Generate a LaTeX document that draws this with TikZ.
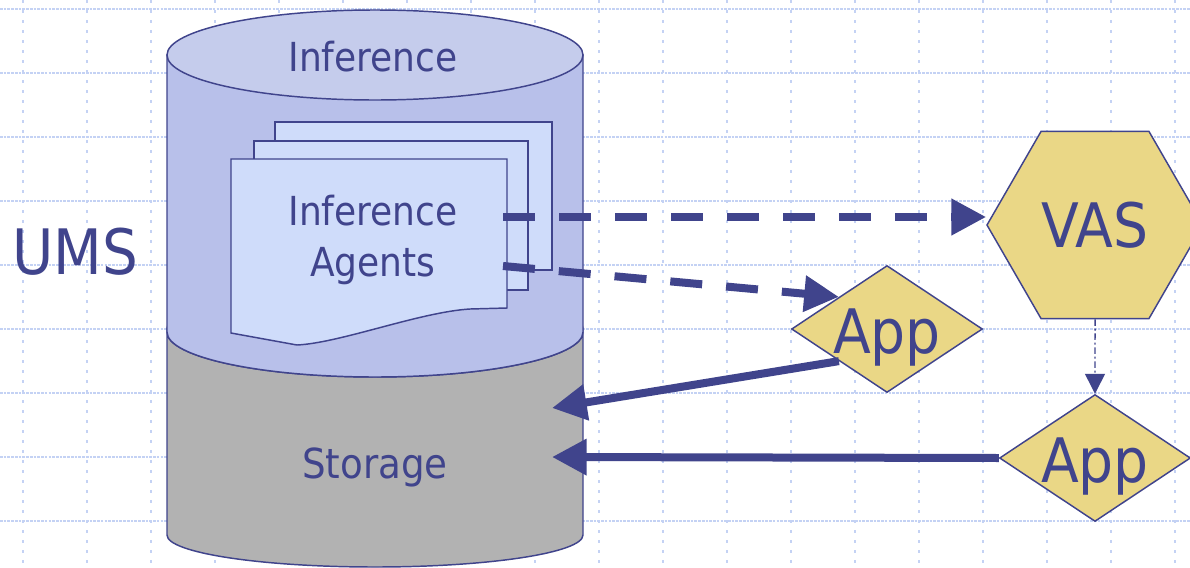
\documentclass[tikz,border=0pt]{standalone}
\usepackage{fontspec}
\setmainfont{DejaVu Sans Condensed}
\usetikzlibrary{arrows.meta,shapes.geometric}

\definecolor{umsblue}{RGB}{64,68,140}
\definecolor{gridblue}{RGB}{196,210,244}
\definecolor{bodyblue}{RGB}{184,192,234}
\definecolor{lidblue}{RGB}{197,204,236}
\definecolor{docblue}{RGB}{207,220,250}
\definecolor{storegray}{RGB}{178,178,178}
\definecolor{appyellow}{RGB}{234,215,134}

\tikzset{
  outline/.style={draw=umsblue, line width=1.1pt},
  gridline/.style={draw=gridblue, line width=1.1pt},
  docpage/.style={outline, fill=docblue},
  bigtxt/.style={text=umsblue, inner sep=0pt, font=\fontsize{46}{55}\selectfont},
  midtxt/.style={text=umsblue, inner sep=0pt, font=\fontsize{30}{38}\selectfont},
  appbox/.style={diamond, shape aspect=1.5, outline, fill=appyellow, bigtxt,
    minimum width=143.25pt, minimum height=95.25pt, text height=37pt, text depth=0pt},
  vasbox/.style={regular polygon, regular polygon sides=6, minimum size=162pt,
    outline, fill=appyellow, bigtxt},
  thickdash/.style={umsblue, line width=6pt, dash pattern=on 24pt off 18pt,
    -{Triangle[length=26pt,width=26pt]}},
  thickline/.style={umsblue, line width=6pt, -{Triangle[length=26pt,width=26pt]}},
  thindash/.style={umsblue, line width=1.1pt, dash pattern=on 5pt off 2pt on 1.5pt off 2pt,
    -{Triangle[length=15pt,width=15pt]}}
}

\begin{document}
\begin{tikzpicture}[x=0.75pt, y=0.75pt]
  \path[use as bounding box, fill=white] (0,0) rectangle (1190,-568);
  \foreach \gx in {0,...,18}
    \draw[gridline, dash pattern=on 2pt off 5.5pt] (23+64*\gx,0) -- (23+64*\gx,-568);
  \foreach \gy in {0,...,8}
    \draw[gridline, dash pattern=on 2pt off 0.8pt] (0,-9-64*\gy) -- (1190,-9-64*\gy);

  \draw[outline, fill=storegray] (167,-332) -- (167,-535)
    arc[start angle=180, end angle=360, x radius=208, y radius=32] -- (583,-332)
    arc[start angle=360, end angle=180, x radius=208, y radius=45] -- cycle;
  \draw[outline, fill=bodyblue] (167,-55) -- (167,-332)
    arc[start angle=180, end angle=360, x radius=208, y radius=45] -- (583,-55) -- cycle;
  \draw[outline, fill=lidblue] (375,-55) ellipse [x radius=208, y radius=45];

  \draw[docpage] (275,-122) rectangle (552,-270);
  \draw[docpage] (254,-141) rectangle (528,-290);
  \draw[docpage] (231,-159) -- (507,-159) -- (507,-308) -- (470,-309)
    .. controls (420,-312) and (340,-343) .. (297,-345) -- (231,-333) -- cycle;

  \node[midtxt, anchor=base] (inftitle) at (373,-71) {Inference};
  \node[midtxt, align=center] (agents) at (373,-240) {Inference\\Agents};
  \node[midtxt, anchor=base, font=\fontsize{31}{38}\selectfont] (storage) at (375,-478) {Storage};
  \node[bigtxt, anchor=base, font=\fontsize{47}{56}\selectfont] (ums) at (75,-274) {UMS};

  \node[vasbox] (vas) at (1095,-225) {VAS};
  \node[appbox] (app1) at (887,-329) {App};
  \node[appbox] (app2) at (1095,-458) {App};

  \coordinate (agtop) at (503,-217);
  \coordinate (agbot) at (503,-266);
  \coordinate (stin1) at (552,-408);
  \coordinate (stin2) at (552,-457);

  \draw[thickdash] (agtop) -- (agtop -| vas.west);
  \draw[thickdash] (agbot) -- (app1.north west);
  \draw[thickline] (app1.south west) -- (stin1);
  \draw[thickline] (app2.west) -- (stin2);
  \draw[thindash] (vas.south) -- (app2.north);
\end{tikzpicture}
\end{document}
